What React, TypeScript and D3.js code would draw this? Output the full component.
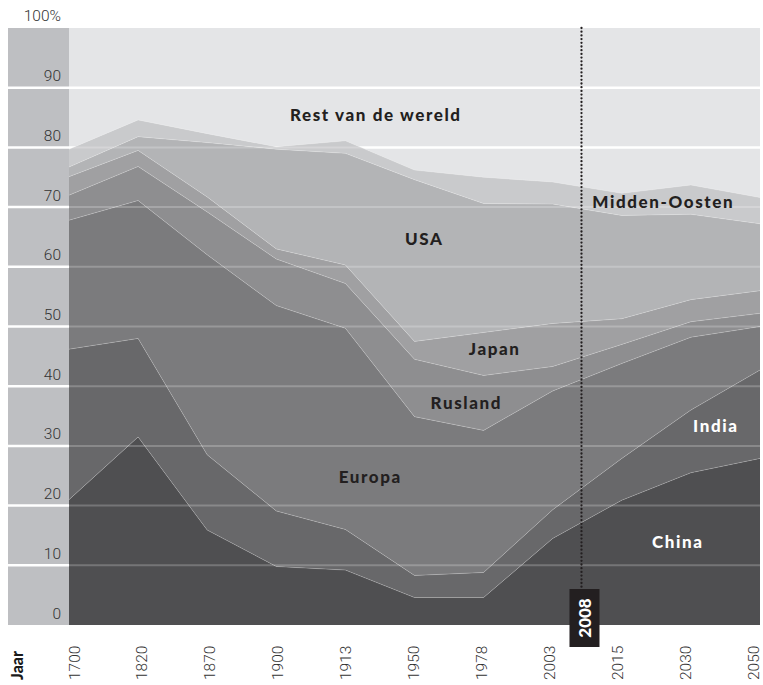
import React from 'react';
import * as d3 from 'd3';

// share of world GDP (%), per region, per year
const years = ['1700', '1820', '1870', '1900', '1913', '1950', '1978', '2003', '2015', '2030', '2050'];
const china = [21.0, 31.5, 15.9, 9.8, 9.2, 4.6, 4.6, 14.5, 20.9, 25.5, 27.9];
const india = [25.2, 16.5, 12.6, 9.3, 6.8, 3.7, 4.2, 4.8, 7.0, 10.5, 14.8];
const europa = [21.6, 23.1, 33.5, 34.4, 33.7, 26.6, 23.8, 19.9, 15.9, 12.2, 7.3];
const rusland = [4.2, 5.7, 7.2, 7.8, 7.5, 9.6, 9.2, 4.1, 3.2, 2.6, 2.2];
const japan = [3.1, 2.7, 2.5, 1.7, 3.1, 3.0, 7.2, 7.2, 4.3, 3.7, 3.8];
const usa = [1.6, 2.3, 9.1, 16.7, 18.7, 27.1, 21.6, 20.0, 17.3, 14.3, 11.2];
const middenOosten = [3.0, 2.8, 1.5, 0.4, 2.1, 1.6, 4.4, 3.7, 3.7, 4.9, 4.4];
const rest = [20.3, 15.4, 17.7, 19.9, 18.9, 23.8, 25.0, 25.8, 27.7, 26.3, 28.4];

const seriesKeys = ['China', 'India', 'Europa', 'Rusland', 'Japan', 'USA', 'Midden-Oosten', 'Rest van de wereld'];
const seriesValues = [china, india, europa, rusland, japan, usa, middenOosten, rest];
const seriesColors = ['#4f4f51', '#68686a', '#7b7b7d', '#8e8e90', '#a0a0a2', '#b3b4b6', '#c9cacc', '#e4e5e7'];

const yTicks = [0, 10, 20, 30, 40, 50, 60, 70, 80, 90];
const gridValues = [10, 20, 30, 40, 50, 60, 70, 80, 90];

// area labels: position as (year index, value)
const labelNames = ['Rest van de wereld', 'USA', 'Japan', 'Rusland', 'Europa', 'Midden-Oosten', 'India', 'China'];
const labelIdx = [4.44, 5.14, 6.16, 5.75, 4.36, 8.6, 9.36, 8.81];
const labelVal = [84.4, 63.7, 45.2, 36.2, 23.8, 69.8, 32.3, 12.9];
const labelWhite = [false, false, false, false, false, false, true, true];

const markerYear = '2008';
const markerIdx = 7 + 5 / 12;

const W = 763;
const H = 685;

export default function App() {
  const rows = years.map((y, i) => {
    const r: Record<string, number> = { idx: i };
    seriesKeys.forEach((k, s) => (r[k] = seriesValues[s][i]));
    return r;
  });
  const stacked = d3.stack<Record<string, number>>().keys(seriesKeys)(rows);

  const x = d3.scaleLinear().domain([0, years.length - 1]).range([69, 760]);
  const xLabel = d3.scalePoint<string>().domain(years).range([74, 753]);
  const y = d3.scaleLinear().domain([0, 100]).range([625, 28]);

  const area = d3
    .area<d3.SeriesPoint<Record<string, number>>>()
    .x((d) => x(d.data.idx))
    .y0((d) => y(d[0]))
    .y1((d) => y(d[1]));
  const topLine = d3
    .line<d3.SeriesPoint<Record<string, number>>>()
    .x((d) => x(d.data.idx))
    .y((d) => y(d[1]));

  const restLayer = stacked[stacked.length - 1];
  const lowerLayers = stacked.slice(0, -1);
  const mx = x(markerIdx);

  return (
    <svg width={W} height={H} style={{ position: 'absolute', left: 0, top: 0, display: 'block' }}>
      <rect x={0} y={0} width={W} height={H} fill="#fff" />
      {/* left band */}
      <rect x={8} y={y(100)} width={x(0) - 8} height={y(0) - y(100)} fill="#bebfc2" />
      <path d={area(restLayer) || ''} fill={seriesColors[seriesColors.length - 1]} />
      {gridValues.map((v) => (
        <line key={'g' + v} x1={8} x2={x(years.length - 1)} y1={y(v)} y2={y(v)} stroke="#fff" strokeWidth={2.5} />
      ))}
      {lowerLayers.map((layer, i) => (
        <path key={layer.key} d={area(layer) || ''} fill={seriesColors[i]} />
      ))}
      {lowerLayers.map((layer) => (
        <path key={'l' + layer.key} d={topLine(layer) || ''} fill="none" stroke="rgba(255,255,255,0.25)" strokeWidth={0.8} />
      ))}
      {gridValues.map((v) => (
        <line key={'gf' + v} x1={x(0)} x2={x(years.length - 1)} y1={y(v)} y2={y(v)} stroke="rgba(255,255,255,0.22)" strokeWidth={2} />
      ))}

      {/* y ticks */}
      {yTicks.map((v) => (
        <text key={'t' + v} x={61} y={y(v) - 6.5} textAnchor="end" fontFamily="Roboto" fontWeight={300} fontSize={15.5} fill="#333">
          {v}
        </text>
      ))}
      <text x={61} y={21} textAnchor="end" fontFamily="Roboto" fontWeight={300} fontSize={15.5} fill="#333">
        100%
      </text>

      {/* x labels */}
      {years.map((yr) => (
        <text
          key={'x' + yr}
          transform={`translate(${xLabel(yr)},680) rotate(-90)`}
          dy="0.36em"
          fontFamily="Roboto"
          fontWeight={300}
          fontSize={15.5}
          fill="#333"
        >
          {yr}
        </text>
      ))}
      <text transform="translate(17,680) rotate(-90)" dy="0.36em" fontFamily="Lato" fontWeight={900} fontSize={16} fill="#1a1a1a">
        Jaar
      </text>

      {/* area labels */}
      {labelNames.map((n, i) => (
        <text
          key={'lab' + n}
          x={x(labelIdx[i])}
          y={y(labelVal[i])}
          textAnchor="middle"
          fontFamily="Lato"
          fontWeight={900}
          fontSize={17}
          letterSpacing={1.6}
          fill={labelWhite[i] ? '#fff' : '#231f20'}
        >
          {n}
        </text>
      ))}

      {/* 2008 marker */}
      <line x1={mx} x2={mx} y1={y(100)} y2={589} stroke="#231f20" strokeWidth={2.3} strokeDasharray="0 3.7" strokeLinecap="round" />
      <rect x={mx - 12} y={589} width={30} height={58} fill="#231f20" />
      <text
        transform={`translate(${mx + 3},618) rotate(-90)`}
        textAnchor="middle"
        dy="0.36em"
        fontFamily="Lato"
        fontWeight={900}
        fontSize={17}
        fill="#fff"
      >
        {markerYear}
      </text>
    </svg>
  );
}
